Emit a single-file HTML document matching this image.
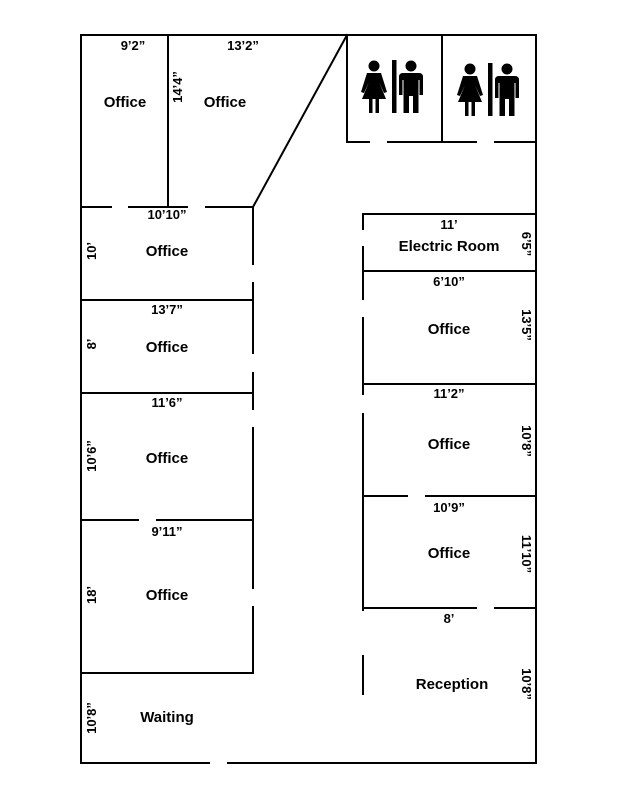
<!DOCTYPE html>
<html><head><style>html,body{margin:0;padding:0;background:#fff}svg{display:block}</style></head>
<body>
<svg width="618" height="800" viewBox="0 0 618 800" xmlns="http://www.w3.org/2000/svg">
<g stroke="#000" stroke-width="2" fill="none" stroke-linecap="square">
<path d="M81 35 H536 V763 H228 M209 763 H81 V35"/>
<path d="M168 35 V207"/>
<path d="M81 207 H111 M129 207 H187 M206 207 H253"/>
<path d="M253 207 L347 35"/>
<path d="M347 35 V142 H369 M388 142 H476 M495 142 H536"/>
<path d="M442 35 V142"/>
<path d="M253 207 V264 M253 283 V353 M253 373 V409 M253 428 V588 M253 607 V673"/>
<path d="M81 300 H253 M81 393 H253"/>
<path d="M81 520 H138 M157 520 H253"/>
<path d="M81 673 H253"/>
<path d="M363 214 H536"/>
<path d="M363 214 V229 M363 247 V299 M363 318 V394 M363 414 V610 M363 656 V694"/>
<path d="M363 271 H536 M363 384 H536"/>
<path d="M363 496 H407 M426 496 H536"/>
<path d="M363 608 H476 M495 608 H536"/>
</g>
<g fill="#000">
<g id="ic">
<circle cx="374" cy="66" r="5.5"/>
<path d="M367 73 H381 L387 92 L384 93 L379 82 L386 99 H379 V113 H375.5 V99 H372.5 V113 H369 V99 H362 L369 82 L364 93 L361 92 Z"/>
<rect x="392" y="60" width="4.5" height="53"/>
<circle cx="411" cy="66" r="5.5"/>
<path d="M403 73 H419 Q423 73 423 77 V95 H419.5 V80 H418.5 V113 H413 V96 H409 V113 H403.5 V80 H402.5 V95 H399 V77 Q399 73 403 73 Z"/>
</g>
<use href="#ic" transform="translate(96,3)"/>
</g>
<g font-family="Liberation Sans, Arial, sans-serif" font-weight="bold" text-anchor="middle" fill="#000">
<g font-size="15">
<text x="125" y="107">Office</text>
<text x="225" y="107">Office</text>
<text x="167" y="256">Office</text>
<text x="167" y="352">Office</text>
<text x="167" y="463">Office</text>
<text x="167" y="600">Office</text>
<text x="167" y="722">Waiting</text>
<text x="449" y="251">Electric Room</text>
<text x="449" y="334">Office</text>
<text x="449" y="449">Office</text>
<text x="449" y="558">Office</text>
<text x="452" y="689">Reception</text>
</g>
<g font-size="13">
<text x="133" y="50">9’2”</text>
<text x="243" y="50">13’2”</text>
<text x="167" y="219">10’10”</text>
<text x="167" y="314">13’7”</text>
<text x="167" y="407">11’6”</text>
<text x="167" y="536">9’11”</text>
<text x="449" y="229">11’</text>
<text x="449" y="286">6’10”</text>
<text x="449" y="398">11’2”</text>
<text x="449" y="512">10’9”</text>
<text x="449" y="623">8’</text>
<text transform="translate(182,87) rotate(-90)">14’4”</text>
<text transform="translate(96,251) rotate(-90)">10’</text>
<text transform="translate(96,344) rotate(-90)">8’</text>
<text transform="translate(96,456) rotate(-90)">10’6”</text>
<text transform="translate(96,595) rotate(-90)">18’</text>
<text transform="translate(96,718) rotate(-90)">10’8”</text>
<text transform="translate(522,244) rotate(90)">6’5”</text>
<text transform="translate(522,325) rotate(90)">13’5”</text>
<text transform="translate(522,441) rotate(90)">10’8”</text>
<text transform="translate(522,554) rotate(90)">11’10”</text>
<text transform="translate(522,684) rotate(90)">10’8”</text>
</g>
</g>
</svg>
</body></html>
